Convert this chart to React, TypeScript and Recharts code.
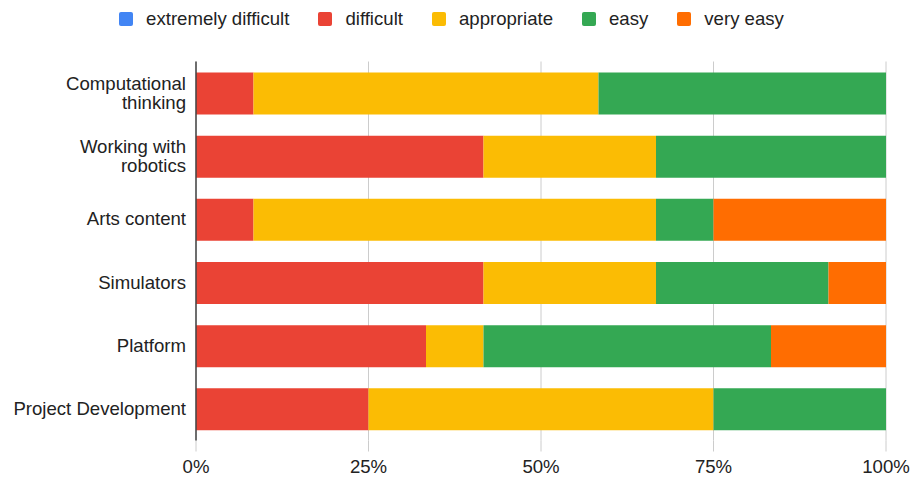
import React from 'react';
import { BarChart, Bar, XAxis, YAxis, CartesianGrid, Legend } from 'recharts';

const categories = [
  'Computational\nthinking',
  'Working with\nrobotics',
  'Arts content',
  'Simulators',
  'Platform',
  'Project Development',
];
const extremelyDifficult = [0, 0, 0, 0, 0, 0];
const difficult = [1, 5, 1, 5, 4, 3];
const appropriate = [6, 3, 7, 3, 1, 6];
const easy = [5, 4, 1, 3, 5, 3];
const veryEasy = [0, 0, 3, 1, 2, 0];
const xTicks = [0, 0.25, 0.5, 0.75, 1];

const series = [
  { key: 'extremelyDifficult', name: 'extremely difficult', color: '#4285F4', values: extremelyDifficult },
  { key: 'difficult', name: 'difficult', color: '#EA4335', values: difficult },
  { key: 'appropriate', name: 'appropriate', color: '#FBBC04', values: appropriate },
  { key: 'easy', name: 'easy', color: '#34A853', values: easy },
  { key: 'veryEasy', name: 'very easy', color: '#FF6D01', values: veryEasy },
];

const data = categories.map((c, i) => {
  const row: any = { category: c };
  series.forEach((s) => {
    row[s.key] = s.values[i];
  });
  return row;
});

const FONT = '"Liberation Sans", Arial, sans-serif';
const FS = 18.6;

const YTick = (props: any) => {
  const { x, y, payload } = props;
  const lines = String(payload.value).split('\n');
  const L = 19;
  const start = y - ((lines.length - 1) * L) / 2 + 6;
  return (
    <text x={x} y={start} textAnchor="end" fill="#222" fontSize={FS} fontFamily={FONT}>
      {lines.map((ln: string, i: number) => (
        <tspan key={i} x={x} y={start + i * L}>
          {ln}
        </tspan>
      ))}
    </text>
  );
};

const LegendContent = () => {
  return (
    <div
      style={{
        height: 38,
        display: 'flex',
        alignItems: 'center',
        justifyContent: 'center',
        fontFamily: FONT,
        fontSize: FS,
        color: '#222',
        paddingRight: 8,
      }}
    >
      {series.map((s, i) => (
        <div key={s.key} style={{ display: 'flex', alignItems: 'center', marginLeft: i === 0 ? 0 : 29 }}>
          <div style={{ width: 14, height: 14, borderRadius: 2, background: s.color, marginRight: 13 }} />
          <span>{s.name}</span>
        </div>
      ))}
    </div>
  );
};

export default function App() {
  return (
    <div style={{ position: 'absolute', left: 0, top: 0, width: 911, height: 479, background: '#fff' }}>
      <BarChart
        width={911}
        height={479}
        data={data}
        layout="vertical"
        stackOffset="expand"
        barSize={42}
        margin={{ top: 23.5, right: 25, bottom: 0, left: 0 }}
      >
        <CartesianGrid horizontal={false} vertical stroke="#cccccc" />
        <XAxis
          type="number"
          domain={[0, 1]}
          ticks={xTicks}
          tickFormatter={(v: number) => `${Math.round(v * 100)}%`}
          axisLine={false}
          tickLine={{ stroke: '#cccccc' }}
          tickSize={11}
          tickMargin={8}
          height={38.5}
          tick={{ fill: '#222', fontSize: FS, fontFamily: FONT }}
        />
        <YAxis
          type="category"
          dataKey="category"
          width={196}
          axisLine={{ stroke: '#444', strokeWidth: 1.5 }}
          tickLine={false}
          tickSize={0}
          tickMargin={10}
          tick={<YTick />}
          interval={0}
        />
        <Legend verticalAlign="top" align="center" content={<LegendContent />} wrapperStyle={{ top: 0, left: 0, width: 911 }} />
        {series.map((s) => (
          <Bar key={s.key} dataKey={s.key} name={s.name} stackId="a" fill={s.color} isAnimationActive={false} />
        ))}
      </BarChart>
    </div>
  );
}
